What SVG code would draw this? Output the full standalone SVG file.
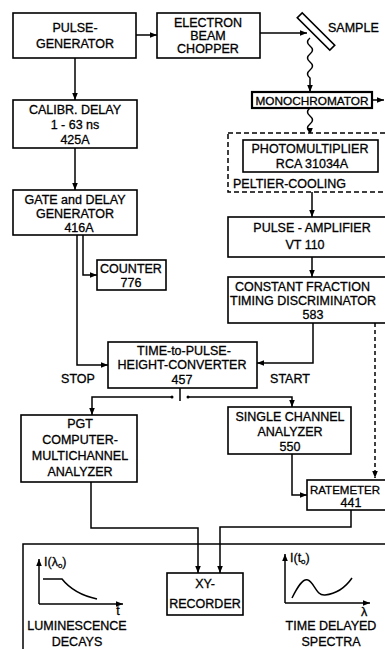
<svg xmlns="http://www.w3.org/2000/svg" width="385" height="649" viewBox="0 0 385 649">
<defs>
<marker id="ah" viewBox="0 0 10 10" refX="10" refY="5" markerWidth="7" markerHeight="7" orient="auto" markerUnits="userSpaceOnUse">
<path d="M0,1 L10,5 L0,9 Z" fill="#000"/>
</marker>
</defs>
<style>
.b{fill:#fff;stroke:#000;stroke-width:1.6}
.t{font-family:"Liberation Sans",Arial,sans-serif;font-size:12.5px;fill:#000;text-anchor:middle;stroke:#000;stroke-width:0.3}
.l{text-anchor:start}
.c{fill:none;stroke:#000;stroke-width:1.5}
.a{marker-end:url(#ah)}
.d{stroke-dasharray:4,3}
</style>
<rect width="385" height="649" fill="#fff"/>

<g id="connectors">
<path class="c a" d="M136,35 H157"/>
<path class="c a" d="M260,33 H307"/>
<path class="c a" d="M75,58 V100"/>
<path class="c a" d="M75,148 V190"/>
<path class="c a" d="M310,38 q-5,4 0,8 q5,4 0,8 q-5,4 0,8 q5,4 0,8 q-5,4 0,8 V92"/>
<path class="c a" d="M372,100 H384"/>
<path class="c a" d="M310,108 q-5,4 0,8 q5,4 0,8 q-5,4 0,8 V135"/>
<path class="c a" d="M312,192 V217"/>
<path class="c a" d="M312,257 V277"/>
<path class="c a" d="M313,323 V363 H257"/>
<path class="c d a" d="M375,323 V478"/>
<path class="c a" d="M77,235 V365 H108"/>
<path class="c a" d="M83,235 V275 H97"/>
<path class="c" d="M180,388 V401"/>
<circle cx="172" cy="397" r="1.5"/>
<circle cx="188" cy="397" r="1.5"/>
<path class="c a" d="M172,397 H92 V415"/>
<path class="c a" d="M188,397 H292 V407"/>
<path class="c a" d="M292,454 V495 H307"/>
<path class="c a" d="M351,510 V527 H220 V573"/>
<path class="c a" d="M91,482 V528 H198 V573"/>
<path class="c" d="M23,649 V544 H385"/>
</g>

<g id="pulse-generator">
<rect class="b" x="13" y="13" width="123" height="45"/>
<text class="t" x="75" y="32">PULSE-</text>
<text class="t" x="75" y="48">GENERATOR</text>
</g>

<g id="chopper">
<rect class="b" x="157" y="13" width="103" height="45"/>
<text class="t" x="208" y="27">ELECTRON</text>
<text class="t" x="208" y="40">BEAM</text>
<text class="t" x="208" y="53">CHOPPER</text>
</g>

<g id="sample">
<rect class="b" x="293" y="28" width="46" height="7" transform="rotate(45 316 31.5)"/>
<text class="t l" x="328" y="32">SAMPLE</text>
</g>

<g id="monochromator">
<rect x="252" y="92" width="120" height="16" fill="#fff" stroke="#000" stroke-width="2.2"/>
<text class="t" x="312" y="104.5" style="font-size:11.5px" textLength="113" lengthAdjust="spacingAndGlyphs">MONOCHROMATOR</text>
</g>

<g id="photomultiplier">
<rect x="228" y="133" width="160" height="59" fill="#fff" stroke="#000" stroke-width="1.5" stroke-dasharray="5,3"/>
<rect class="b" x="243" y="140" width="135" height="32"/>
<text class="t" x="310" y="153">PHOTOMULTIPLIER</text>
<text class="t" x="312" y="168">RCA  31034A</text>
<text class="t l" x="233" y="188">PELTIER-COOLING</text>
</g>

<g id="pulse-amplifier">
<rect class="b" x="228" y="217" width="160" height="40"/>
<text class="t" x="312" y="232">PULSE - AMPLIFIER</text>
<text class="t" x="305" y="249">VT  110</text>
</g>

<g id="cfd">
<rect class="b" x="228" y="277" width="160" height="46"/>
<text class="t l" x="235" y="291">CONSTANT  FRACTION</text>
<text class="t l" x="230" y="305">TIMING DISCRIMINATOR</text>
<text class="t" x="313" y="319">583</text>
</g>

<g id="calibr-delay">
<rect class="b" x="13" y="100" width="124" height="48"/>
<text class="t" x="75" y="114">CALIBR. DELAY</text>
<text class="t" x="75" y="129">1 - 63 ns</text>
<text class="t" x="75" y="144">425A</text>
</g>

<g id="gate-delay">
<rect class="b" x="13" y="190" width="124" height="45"/>
<text class="t" x="75" y="204">GATE and DELAY</text>
<text class="t" x="75" y="218">GENERATOR</text>
<text class="t" x="79" y="232">416A</text>
</g>

<g id="counter">
<rect class="b" x="97" y="260" width="69" height="30"/>
<text class="t" x="131" y="273">COUNTER</text>
<text class="t" x="131" y="287">776</text>
</g>

<g id="tac">
<rect class="b" x="108" y="342" width="149" height="46"/>
<text class="t" x="184" y="355">TIME-to-PULSE-</text>
<text class="t" x="182" y="369">HEIGHT-CONVERTER</text>
<text class="t" x="182" y="384">457</text>
<text class="t" x="78" y="383">STOP</text>
<text class="t" x="290" y="383">START</text>
</g>

<g id="pgt">
<rect class="b" x="21" y="415" width="116" height="67"/>
<text class="t" x="80" y="428">PGT</text>
<text class="t" x="80" y="444">COMPUTER-</text>
<text class="t" x="80" y="460">MULTICHANNEL</text>
<text class="t" x="80" y="476">ANALYZER</text>
</g>

<g id="sca">
<rect class="b" x="228" y="407" width="123" height="47"/>
<text class="t" x="290" y="421">SINGLE CHANNEL</text>
<text class="t" x="290" y="436">ANALYZER</text>
<text class="t" x="290" y="451">550</text>
</g>

<g id="ratemeter">
<rect class="b" x="307" y="480" width="82" height="30"/>
<text class="t l" x="310" y="494" style="font-size:11.5px">RATEMETER</text>
<text class="t" x="351" y="507">441</text>
</g>

<g id="xy-recorder">
<rect class="b" x="167" y="573" width="76" height="42"/>
<text class="t" x="205" y="588">XY-</text>
<text class="t" x="205" y="608">RECORDER</text>
</g>

<g id="luminescence-graph">
<path class="c a" d="M39,604 V559"/>
<path class="c a" d="M39,604 H123"/>
<path class="c" d="M43,579 H62 Q74,594 97,599"/>
<text class="t l" x="44" y="566">I(λ<tspan font-size="8" dy="2">o</tspan><tspan dy="-2">)</tspan></text>
<text class="t" x="118" y="615">t</text>
<text class="t" x="77" y="630">LUMINESCENCE</text>
<text class="t" x="77" y="646">DECAYS</text>
</g>

<g id="spectra-graph">
<path class="c a" d="M285,603 V554"/>
<path class="c a" d="M285,603 H370"/>
<path class="c" d="M292,598 C298,586 303,578 308,580 C314,582 316,596 325,595 C335,594 345,588 352,578"/>
<text class="t l" x="290" y="562">I(t<tspan font-size="8" dy="2">o</tspan><tspan dy="-2">)</tspan></text>
<text class="t" x="364" y="616">λ</text>
<text class="t" x="331" y="630">TIME  DELAYED</text>
<text class="t" x="331" y="646">SPECTRA</text>
</g>
</svg>
